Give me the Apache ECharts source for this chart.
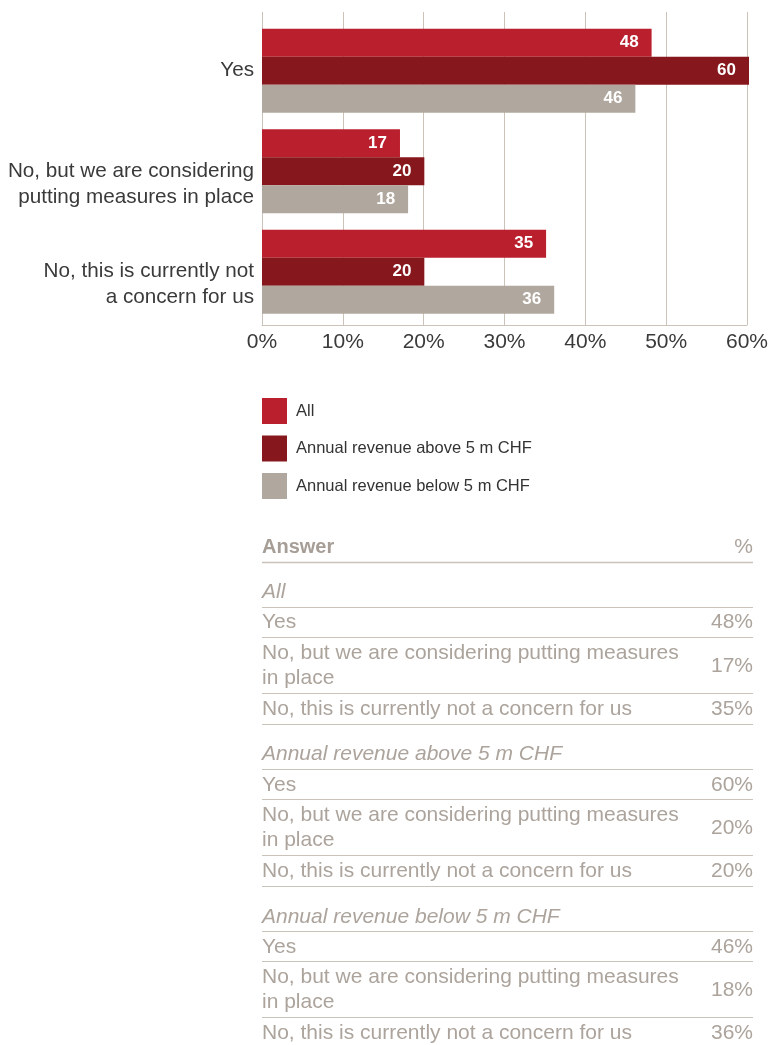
<!DOCTYPE html>
<html>
<head>
<meta charset="utf-8">
<title>Survey answers by revenue group</title>
<script src="https://cdn.jsdelivr.net/npm/echarts@6/dist/echarts.min.js"></script>
<style>
  html, body { margin: 0; padding: 0; background: #fff; }
  #chart { width: 771px; height: 1045px; }
</style>
</head>
<body>
<div id="chart"></div>
<script>
// Answers (categories) and the three respondent groups
const categories = [
  'Yes',
  'No, but we are considering putting measures in place',
  'No, this is currently not a concern for us'
];
// Line-broken versions used on the chart's category axis
const axisLabelLines = [
  'Yes',
  'No, but we are considering\nputting measures in place',
  'No, this is currently not\na concern for us'
];
const groupNames = ['All', 'Annual revenue above 5 m CHF', 'Annual revenue below 5 m CHF'];

// Share of respondents, in percent
const valuesAll = [48, 17, 35];
const valuesAbove = [60, 20, 20];
const valuesBelow = [46, 18, 36];
const groupValues = [valuesAll, valuesAbove, valuesBelow];

// Value axis ticks
const tickMin = 0;
const tickMax = 60;
const tickStep = 10;

const groupColors = ['#ba1f2e', '#86181d', '#b0a89f'];
const ruleColor = '#cbc2ba';
const tableText = '#aca49c';
const FONT = '"Liberation Sans", Arial, Helvetica, sans-serif';

const chart = echarts.init(document.getElementById('chart'), null, { renderer: 'canvas' });

// ---- Summary table below the legend, built from the same arrays ----
const measureCtx = document.createElement('canvas').getContext('2d');
function wrapText(str, fontSize, maxWidth) {
  measureCtx.font = fontSize + 'px ' + FONT;
  const words = str.split(' ');
  const lines = [];
  let cur = '';
  words.forEach(w => {
    const test = cur ? cur + ' ' + w : w;
    if (cur && measureCtx.measureText(test).width > maxWidth) {
      lines.push(cur);
      cur = w;
    } else {
      cur = test;
    }
  });
  if (cur) lines.push(cur);
  return lines;
}

const table = { left: 262, right: 753, labelWidth: 430, fontSize: 21, headerRule: 561.5 };
const tableElements = [];

function rule(y, width) {
  const yy = Math.round(y) + 0.5;
  tableElements.push({
    type: 'line', silent: true,
    shape: { x1: table.left, y1: yy, x2: table.right, y2: yy },
    style: { stroke: ruleColor, lineWidth: width || 1 }
  });
}
function cellText(str, x, y, opts) {
  tableElements.push({
    type: 'text', silent: true, x: x, y: y,
    style: Object.assign({
      text: str, fill: tableText, fontFamily: FONT, fontSize: table.fontSize,
      verticalAlign: 'middle', align: 'left'
    }, opts || {})
  });
}

cellText('Answer', table.left, table.headerRule - 14.5, { fontWeight: 'bold', fontSize: 20, fill: '#a69e96' });
cellText('%', table.right, table.headerRule - 14.5, { align: 'right' });
rule(table.headerRule, 1.5);

let y = table.headerRule;
groupNames.forEach((g, gi) => {
  cellText(g, table.left, y + 31, { fontStyle: 'italic' });
  y += 45.5;
  rule(y);
  categories.forEach((c, ci) => {
    const lines = wrapText(c, table.fontSize, table.labelWidth);
    const h = lines.length > 1 ? 56 : 30.3;
    cellText(lines.join('\n'), table.left, y + h / 2 + 0.5, { lineHeight: 25 });
    cellText(groupValues[gi][ci] + '%', table.right, y + h / 2 + 0.5, { align: 'right' });
    y += h;
    rule(y);
  });
});

// ---- Bar chart ----
const series = groupNames.map((name, i) => ({
  name: name,
  type: 'bar',
  xAxisIndex: 0,
  yAxisIndex: 0,
  data: groupValues[i],
  barWidth: 28,
  barGap: '0%',
  itemStyle: { color: groupColors[i] },
  label: {
    show: true,
    position: 'insideRight',
    distance: 13,
    color: '#fff',
    fontFamily: FONT,
    fontSize: 17,
    fontWeight: 'bold'
  },
  emphasis: { disabled: true }
}));

// The first line of each category label sits level with the centre of its bar group:
// blank lines are added above so the label block stays centred on that first line.
function alignFirstLine(label) {
  const n = label.split('\n').length;
  return '\n'.repeat(n - 1) + label;
}

chart.setOption({
  animation: false,
  textStyle: { fontFamily: FONT },
  grid: [
    { left: 262, width: 487, top: 20.5, height: 301.5 },
    { left: 262, width: 487, top: 12, height: 313 }
  ],
  xAxis: [
    { gridIndex: 0, type: 'value', min: tickMin, max: tickMax, interval: tickStep, show: false },
    {
      gridIndex: 1, type: 'value', min: tickMin, max: tickMax, interval: tickStep,
      axisLine: { show: true, onZero: false, lineStyle: { color: ruleColor, width: 1 } },
      axisTick: { show: false },
      splitLine: { show: true, lineStyle: { color: ruleColor, width: 1 } },
      axisLabel: { formatter: '{value}%', fontSize: 21, color: '#3a3a3a', margin: 7, fontFamily: FONT }
    }
  ],
  yAxis: [
    {
      gridIndex: 0, type: 'category', data: axisLabelLines, inverse: true,
      axisLine: { show: false }, axisTick: { show: false }, splitLine: { show: false },
      axisLabel: {
        formatter: alignFirstLine,
        fontSize: 20.7, lineHeight: 26, color: '#3a3a3a', margin: 8, fontFamily: FONT
      }
    },
    { gridIndex: 1, type: 'value', show: false }
  ],
  legend: {
    data: groupNames,
    orient: 'vertical',
    left: 262,
    top: 398,
    padding: 0,
    icon: 'rect',
    itemWidth: 25,
    itemHeight: 26,
    itemGap: 11.5,
    selectedMode: false,
    textStyle: { fontSize: 16.5, color: '#333', fontFamily: FONT, padding: [0, 0, 0, 4] }
  },
  series: series,
  graphic: tableElements
});
</script>
</body>
</html>
